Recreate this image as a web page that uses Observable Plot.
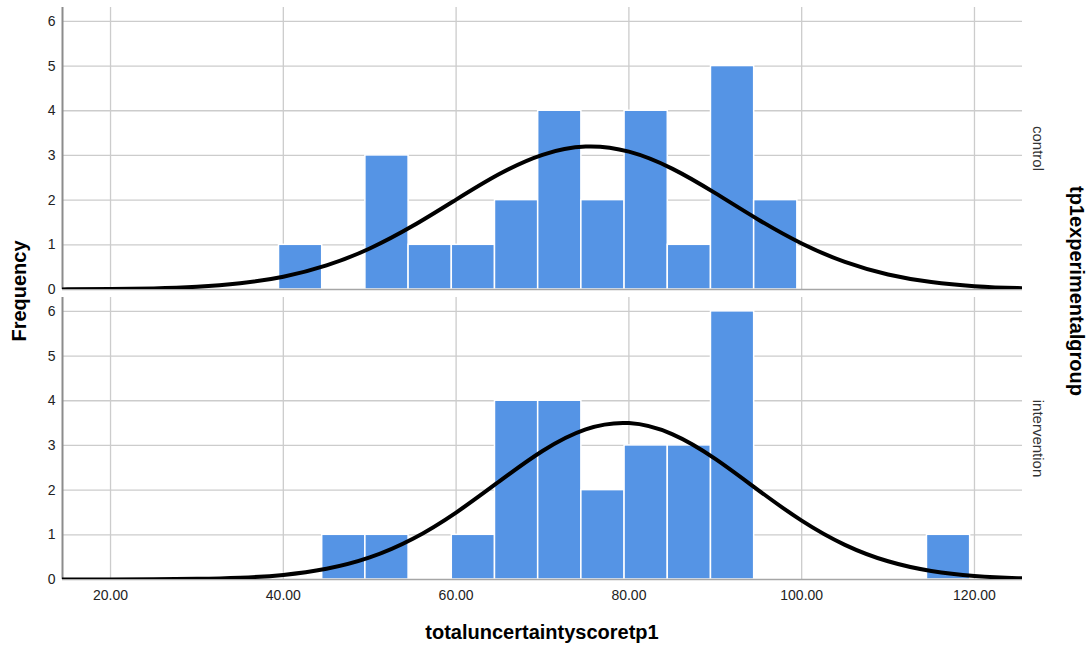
<!DOCTYPE html>
<html>
<head>
<meta charset="utf-8">
<script src="https://cdn.jsdelivr.net/npm/d3@7"></script>
<script src="https://cdn.jsdelivr.net/npm/@observablehq/plot@0.6"></script>
<style>
  html, body { margin: 0; padding: 0; background: #fff; }
  #wrap { position: relative; width: 1090px; height: 651px; font-family: Arial, "Liberation Sans", sans-serif; }
  #wrap svg { position: absolute; left: 0; top: 0; }
  .title { position: absolute; font-weight: bold; font-size: 20px; color: #000; white-space: nowrap; }
</style>
</head>
<body>
<div id="wrap">
  <div class="title" id="xt">totaluncertaintyscoretp1</div>
  <div class="title" id="yt">Frequency</div>
  <div class="title" id="ft">tp1experimentalgroup</div>
</div>
<script>
// ---- data ----
const groups = ["control", "intervention"];
const binStarts = [39.5, 44.5, 49.5, 54.5, 59.5, 64.5, 69.5, 74.5, 79.5, 84.5, 89.5, 94.5, 99.5, 104.5, 109.5, 114.5];
const binWidth = 5;
const controlCounts      = [1, 0, 3, 1, 1, 2, 4, 2, 4, 1, 5, 2, 0, 0, 0, 0];
const interventionCounts = [0, 1, 1, 0, 1, 4, 4, 2, 3, 3, 6, 0, 0, 0, 0, 1];

// normal-curve overlay, values read at each x
const curveX = [10, 15, 20, 25, 30, 35, 40, 45, 50, 55, 60, 65, 70, 75, 80, 85, 90, 95, 100, 105, 110, 115, 120, 125, 130];
const controlCurve      = [0.001, 0.003, 0.009, 0.024, 0.061, 0.139, 0.286, 0.538, 0.918, 1.425, 2.012, 2.584, 3.014, 3.198, 3.084, 2.705, 2.156, 1.562, 1.030, 0.617, 0.336, 0.166, 0.075, 0.031, 0.011];
const interventionCurve = [0.000, 0.0003, 0.001, 0.004, 0.014, 0.040, 0.103, 0.239, 0.493, 0.910, 1.497, 2.196, 2.876, 3.359, 3.500, 3.253, 2.699, 1.996, 1.318, 0.776, 0.408, 0.191, 0.080, 0.030, 0.010];

const xTicks = [20, 40, 60, 80, 100, 120];
const yTicks = [0, 1, 2, 3, 4, 5, 6];
const xDomain = [14.44, 125.56];
const yDomain = [0, 6.31];

// ---- tables ----
const counts = {control: controlCounts, intervention: interventionCounts};
const curves = {control: controlCurve, intervention: interventionCurve};
const bars = [];
for (const g of groups) {
  binStarts.forEach((s, i) => {
    if (counts[g][i] > 0) bars.push({group: g, x1: s, x2: s + binWidth, count: counts[g][i]});
  });
}
const curvePts = [];
for (const g of groups) curveX.forEach((x, i) => curvePts.push({group: g, x, y: curves[g][i]}));

const font = 'Arial, "Liberation Sans", sans-serif';

const chart = Plot.plot({
  width: 1090,
  height: 651,
  marginLeft: 62,
  marginRight: 68,
  marginTop: 7,
  marginBottom: 72,
  style: {fontFamily: font, background: "white", overflow: "visible"},
  x: {domain: xDomain, axis: null},
  y: {domain: yDomain, axis: null},
  fy: {domain: groups, axis: null, paddingInner: 8 / 290, paddingOuter: 0},
  marks: [
    Plot.gridY(yTicks.slice(1), {stroke: "#cccccc", strokeOpacity: 1, strokeWidth: 1.3}),
    Plot.gridX(xTicks, {stroke: "#cccccc", strokeOpacity: 1, strokeWidth: 1.3}),
    Plot.rectY(bars, {x1: "x1", x2: "x2", y: "count", fy: "group", fill: "#5594e5", stroke: "white", strokeWidth: 1.5}),
    Plot.ruleY([0], {stroke: "#a6a6a6", strokeWidth: 1.5}),
    Plot.ruleX([xDomain[0]], {stroke: "#8c8c8c", strokeWidth: 2}),
    Plot.line(curvePts, {x: "x", y: "y", fy: "group", stroke: "black", strokeWidth: 4, curve: "natural", clip: true}),
    Plot.axisY({ticks: yTicks, tickSize: 0, tickPadding: 7, fontSize: 14, tickFormat: d => String(d), label: null, color: "#222"}),
    Plot.axisX({ticks: xTicks, tickSize: 0, tickPadding: 11, fontSize: 14, tickFormat: d => d.toFixed(2), label: null, facetAnchor: "bottom", color: "#222"}),
    Plot.text(groups, {fy: d => d, text: d => d, frameAnchor: "right", rotate: 90, dx: 15, fontSize: 15, fill: "#333", textAnchor: "middle"})
  ]
});

const wrap = document.getElementById("wrap");
wrap.insertBefore(chart, wrap.firstChild);

// position titles
const xt = document.getElementById("xt");
xt.style.left = "542px"; xt.style.top = "632px";
xt.style.transform = "translate(-50%, -50%)";
const yt = document.getElementById("yt");
yt.style.left = "19px"; yt.style.top = "291px";
yt.style.transform = "translate(-50%, -50%) rotate(-90deg)";
const ft = document.getElementById("ft");
ft.style.left = "1076px"; ft.style.top = "291px";
ft.style.transform = "translate(-50%, -50%) rotate(90deg)";
</script>
</body>
</html>
